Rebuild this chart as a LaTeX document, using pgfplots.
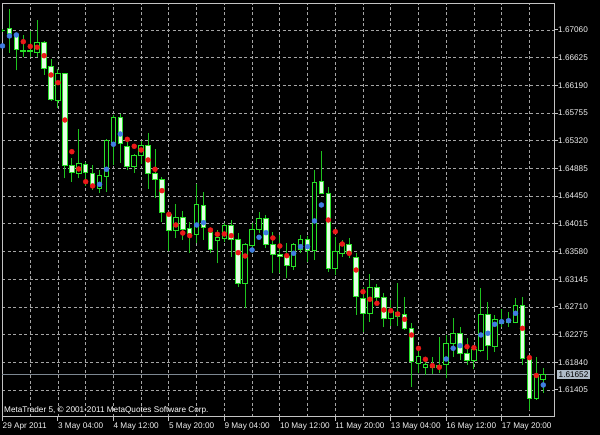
\documentclass[border=0pt]{standalone}
\usepackage{fontspec}
\setmainfont{Liberation Sans}
\usepackage{pgfplots}
\usepackage{pgfplotstable}
\pgfplotsset{compat=1.18}

\definecolor{wickc}{RGB}{30,195,30}
\definecolor{bodyc}{RGB}{40,225,40}
\definecolor{bearfill}{RGB}{228,255,228}
\definecolor{gridc}{RGB}{165,165,165}
\definecolor{framec}{RGB}{195,195,195}
\definecolor{labelc}{RGB}{240,240,240}
\definecolor{dotred}{RGB}{235,25,25}
\definecolor{dotblue}{RGB}{65,125,225}
\definecolor{pricel}{RGB}{125,135,145}
\definecolor{pricebox}{RGB}{176,188,200}

% i = H4 bar index; o h l c = open high low close; d = indicator dot; dc = dot colour class
\pgfplotstableread{
i o h l c d dc
0 1.67052 1.67076 1.67029 1.67044 1.66809 b
1 1.67084 1.67390 1.66699 1.67005 1.66966 b
2 1.66981 1.67013 1.66424 1.66746 1.66981 b
3 1.66722 1.66981 1.66636 1.66738 1.66876 r
4 1.66714 1.67036 1.66636 1.66730 1.66801 r
5 1.66710 1.67217 1.66641 1.66861 1.66788 r
6 1.66861 1.66892 1.66353 1.66458 1.66656 r
7 1.66479 1.66600 1.65945 1.65960 1.66353 r
8 1.65953 1.66447 1.65830 1.66369 1.66232 r
9 1.66369 1.66385 1.64730 1.64924 1.65646 r
10 1.64924 1.65045 1.64677 1.64818 1.65148 r
11 1.64809 1.65500 1.64730 1.64955 1.64877 r
12 1.64947 1.64987 1.64610 1.64814 1.64677 r
13 1.64809 1.64939 1.64547 1.64625 1.64610 r
14 1.64573 1.64861 1.64500 1.64767 1.64636 b
15 1.64762 1.65348 1.64515 1.65321 1.64872 b
16 1.65293 1.65725 1.64939 1.65678 1.65265 b
17 1.65678 1.65733 1.64971 1.65269 1.65426 b
18 1.65227 1.65332 1.64853 1.64913 1.65343 r
19 1.64913 1.65112 1.64814 1.65096 1.65233 r
20 1.65089 1.65316 1.64955 1.65238 1.65175 r
21 1.65238 1.65437 1.64562 1.64798 1.65018 r
22 1.64798 1.65186 1.64421 1.64704 1.64872 r
23 1.64715 1.64746 1.64049 1.64190 1.64536 r
24 1.64154 1.64201 1.63581 1.63903 1.64165 r
25 1.63903 1.64327 1.63788 1.64118 1.63997 r
26 1.64118 1.64222 1.63761 1.63926 1.63871 r
27 1.63942 1.64044 1.63557 1.63856 1.63829 r
28 1.63840 1.64641 1.63709 1.64311 1.63997 b
29 1.64300 1.64520 1.63761 1.63961 1.64033 b
30 1.63876 1.63929 1.63552 1.63615 1.63918 r
31 1.63761 1.63918 1.63395 1.63804 1.63851 r
32 1.63788 1.64024 1.63735 1.63981 1.63856 r
33 1.63981 1.64075 1.63499 1.63772 1.63829 r
34 1.63772 1.63866 1.63028 1.63070 1.63562 r
35 1.63081 1.63714 1.62688 1.63683 1.63510 r
36 1.63667 1.64024 1.63552 1.63929 1.63604 b
37 1.63929 1.64206 1.63866 1.64102 1.63804 b
38 1.64102 1.64154 1.63631 1.63683 1.63876 b
39 1.63698 1.63892 1.63238 1.63526 1.63793 r
40 1.63526 1.63840 1.63238 1.63499 1.63667 r
41 1.63499 1.63709 1.63160 1.63353 1.63515 r
42 1.63342 1.63709 1.63290 1.63683 1.63552 b
43 1.63604 1.63840 1.63552 1.63772 1.63656 b
44 1.63772 1.63824 1.63420 1.63593 1.63656 b
45 1.63593 1.64861 1.63447 1.64661 1.64060 b
46 1.64677 1.65164 1.64484 1.64495 1.64311 b
47 1.64495 1.64599 1.63263 1.63317 1.64075 r
48 1.63317 1.63808 1.63211 1.63577 1.63892 r
49 1.63552 1.63761 1.63499 1.63709 1.63698 r
50 1.63694 1.63797 1.63474 1.63552 1.63552 r
51 1.63489 1.63552 1.62583 1.62866 1.63290 r
52 1.62845 1.63023 1.62321 1.62610 1.62949 r
53 1.62610 1.63227 1.62478 1.63012 1.62830 r
54 1.63018 1.63070 1.62740 1.62861 1.62767 r
55 1.62861 1.62924 1.62390 1.62531 1.62662 r
56 1.62531 1.62819 1.62410 1.62635 1.62651 r
57 1.62615 1.63081 1.62410 1.62567 1.62599 r
58 1.62583 1.62866 1.62348 1.62374 1.62516 r
59 1.62374 1.62453 1.61457 1.61850 1.62269 r
60 1.61824 1.62033 1.61667 1.61939 1.62060 r
61 1.61762 1.61919 1.61641 1.61798 1.61887 r
62 1.61766 1.61919 1.61656 1.61790 1.61787 r
63 1.61751 1.62233 1.61667 1.61782 1.61762 r
64 1.61813 1.62269 1.61589 1.62139 1.61892 b
65 1.62139 1.62531 1.61928 1.62296 1.62060 b
66 1.62296 1.62399 1.61876 1.61982 1.62101 b
67 1.61982 1.62217 1.61798 1.61865 1.62085 r
68 1.61865 1.62112 1.61730 1.62044 1.62069 r
69 1.62033 1.63003 1.62007 1.62583 1.62269 b
70 1.62594 1.62792 1.61876 1.62101 1.62296 b
71 1.62096 1.62583 1.62007 1.62505 1.62437 b
72 1.62442 1.62673 1.62399 1.62497 1.62478 b
73 1.62473 1.62630 1.62395 1.62512 1.62494 b
74 1.62462 1.62845 1.62457 1.62725 1.62610 b
75 1.62740 1.62871 1.61798 1.61903 1.62374 r
76 1.61887 1.61923 1.61091 1.61275 1.61913 r
77 1.61275 1.61928 1.61248 1.61641 1.61633 r
78 1.61573 1.61746 1.61363 1.61652 1.61484 b
}\candles

\pgfplotsset{
  mtbase/.style={
    scale only axis, width=552pt, height=413pt,
    at={(2pt,18pt)}, anchor=south west,
    xmin=-0.072, xmax=79.55, ymin=1.60981, ymax=1.67468,
  },
}

\begin{document}
\begin{tikzpicture}
\path[use as bounding box, fill=black] (0,0) rectangle (600pt,435pt);

% background axis: frame, grid, ticks, labels, price line, wicks
\begin{axis}[mtbase,
  axis line style={draw=framec, line width=1pt},
  tick align=outside, major tick length=4pt, minor tick length=0pt,
  tick style={draw=framec, line width=1pt},
  xtick pos=bottom, ytick pos=right, yticklabel pos=right,
  xtick={8,16,24,32,40,48,56,64,72},
  xticklabels={3 May 04:00,4 May 12:00,5 May 20:00,9 May 04:00,10 May 12:00,11 May 20:00,13 May 04:00,16 May 12:00,17 May 20:00},
  minor xtick={4,12,20,28,36,44,52,60,68,76},
  extra x ticks={0}, extra x tick labels={29 Apr 2011}, extra x tick style={grid=none},
  ytick={1.61405,1.61840,1.62275,1.62710,1.63145,1.63580,1.64015,1.64450,1.64885,1.65320,1.65755,1.66190,1.66625,1.67060},
  yticklabels={1.61405,1.61840,1.62275,1.62710,1.63145,1.63580,1.64015,1.64450,1.64885,1.65320,1.65755,1.66190,1.66625,1.67060},
  xmajorgrids, xminorgrids, ymajorgrids,
  major grid style={draw=gridc, line width=0.8pt, dash pattern=on 3pt off 2.5pt},
  minor grid style={draw=gridc, line width=0.8pt, dash pattern=on 3pt off 2.5pt},
  ticklabel style={font=\fontsize{8.2}{9}\selectfont, text=labelc},
  xticklabel style={anchor=north west, inner sep=0pt, xshift=0pt, yshift=-1.5pt},
  yticklabel style={anchor=west, inner sep=0pt},
]
\addplot[pricel, line width=1pt, forget plot] coordinates {(-1,1.61652) (81,1.61652)};
\addplot[draw=none, mark=none, forget plot,
  error bars/.cd, y dir=plus, y explicit, error mark=none,
  error bar style={draw=wickc, line width=1pt, solid}]
  table[x=i, y=l, y error plus expr={\thisrow{h}-\thisrow{l}}] {\candles};
\end{axis}

% candle bodies: floating bars stacked on an invisible base
\begin{axis}[mtbase, hide axis, ybar stacked, bar width=4.6pt]
\addplot[draw=none, fill=none] table[x=i, y expr={min(\thisrow{o},\thisrow{c})}] {\candles};
\addplot[draw=bodyc, fill=black, line width=1pt] table[x=i, y expr={max(\thisrow{c}-\thisrow{o},0)}] {\candles};
\addplot[draw=bodyc, fill=bearfill, line width=1pt] table[x=i, y expr={max(\thisrow{o}-\thisrow{c},0)}] {\candles};
\end{axis}

% indicator dots and texts
\begin{axis}[mtbase, hide axis, clip=false]
\addplot[scatter, only marks, scatter src=explicit symbolic,
  scatter/classes={r={mark=*, draw=dotred, fill=dotred}, b={mark=*, draw=dotblue, fill=dotblue}},
  mark size=2.5pt]
  table[x=i, y=d, meta=dc] {\candles};
\node[anchor=base west, inner sep=0pt, text=white, font=\fontsize{8.2}{9}\selectfont]
  at (rel axis cs:0,0) [xshift=2pt, yshift=4pt] {MetaTrader 5, © 2001-2011 MetaQuotes Software Corp.};
\node[anchor=west, fill=pricebox, text=black, inner xsep=1.5pt, inner ysep=1.5pt, font=\fontsize{8.2}{9}\selectfont]
  at (axis cs:79.55,1.61652) [xshift=3pt] {1.61652};
\end{axis}
\end{tikzpicture}
\end{document}
